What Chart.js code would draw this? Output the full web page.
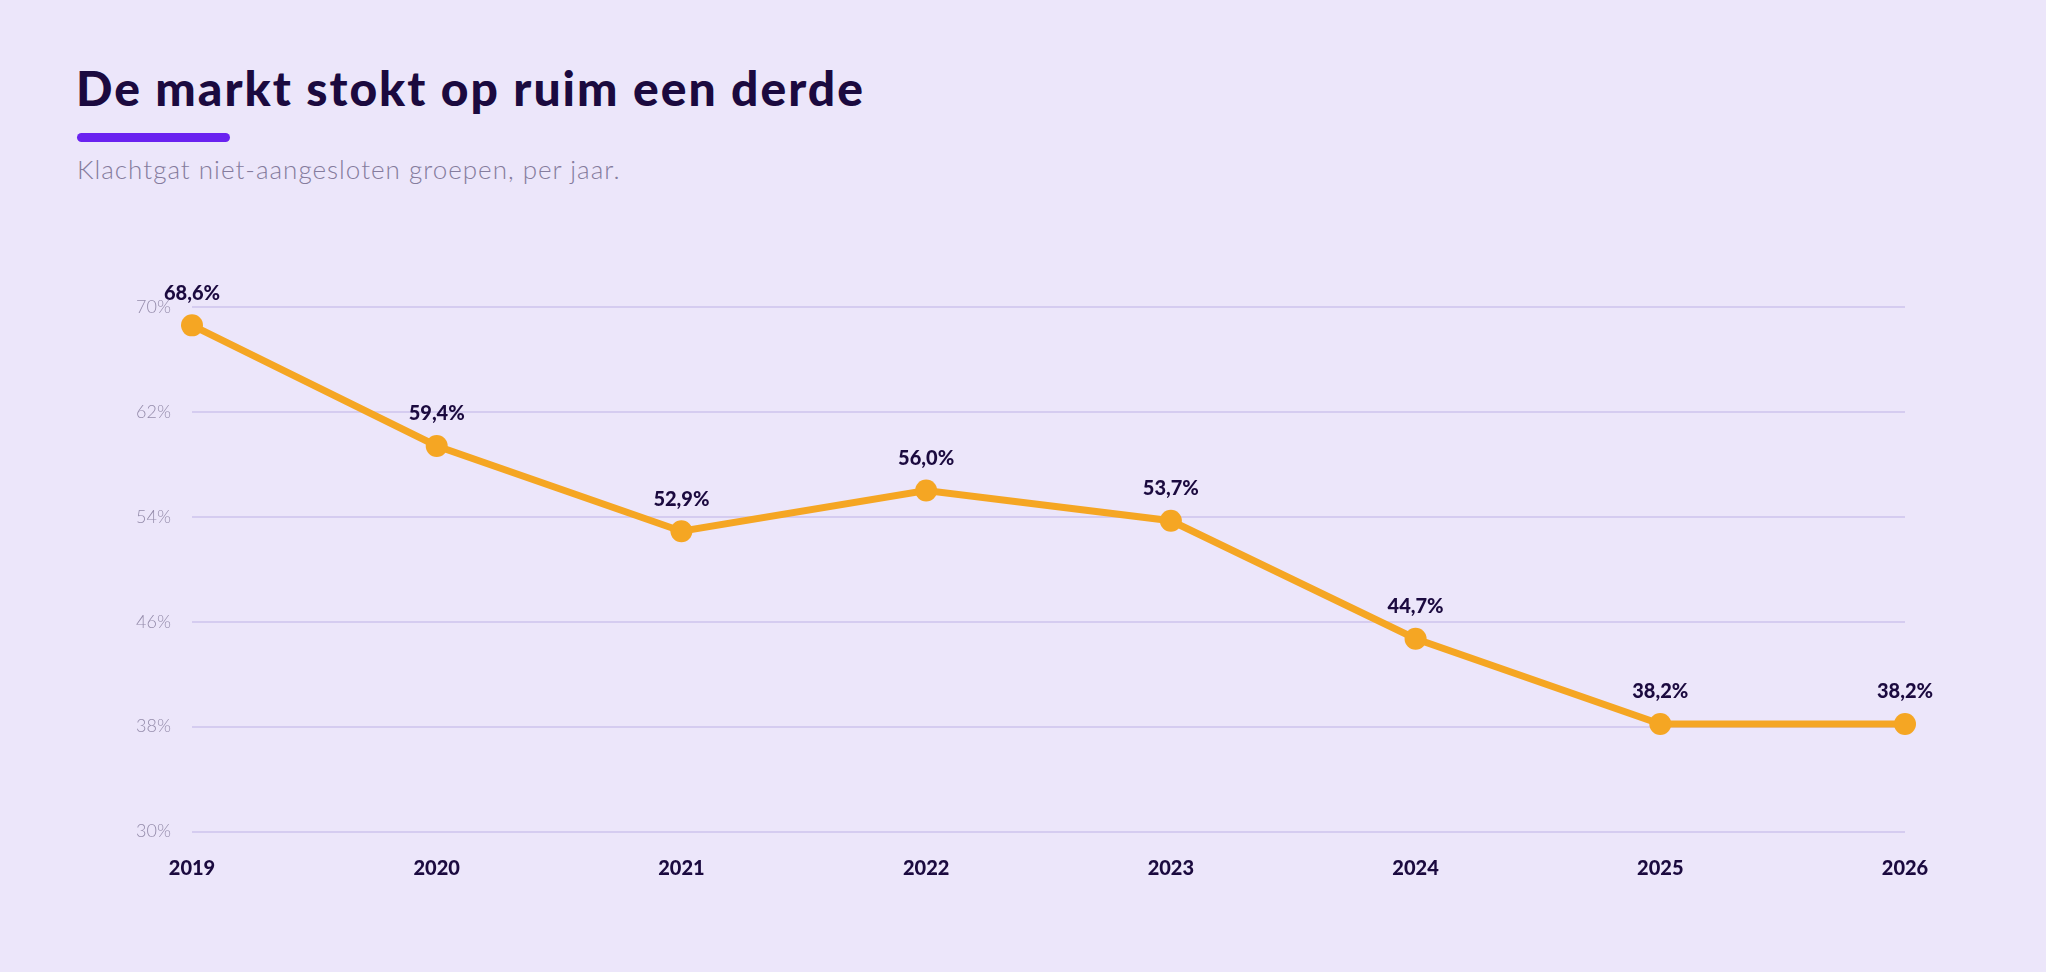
<!DOCTYPE html>
<html>
<head>
<meta charset="utf-8">
<script src="https://cdn.jsdelivr.net/npm/chart.js@4.4.1/dist/chart.umd.min.js"></script>
<style>
  html, body { margin:0; padding:0; background:#ece6fa; width:2046px; height:972px; overflow:hidden; }
  #title { position:absolute; left:76px; top:64px; font-family:Lato, sans-serif; font-weight:900; font-size:48px; line-height:48px; color:#1b0a3f; white-space:nowrap; letter-spacing:2px; }
  #bar { position:absolute; left:77px; top:133px; width:153px; height:9px; border-radius:5px; background:#6a22f0; }
  #subtitle { position:absolute; left:77px; top:156px; font-family:Lato, sans-serif; font-weight:300; font-size:26px; line-height:26px; color:#857c9d; white-space:nowrap; letter-spacing:1px; }
  #wrap { position:absolute; left:0; top:0; width:2046px; height:972px; }
</style>
</head>
<body>
<div id="title">De markt stokt op ruim een derde</div>
<div id="bar"></div>
<div id="subtitle">Klachtgat niet-aangesloten groepen, per jaar.</div>
<div id="wrap"><canvas id="c" width="2046" height="972"></canvas></div>
<script>
const years = ['2019','2020','2021','2022','2023','2024','2025','2026'];
const gapValues = [68.6, 59.4, 52.9, 56.0, 53.7, 44.7, 38.2, 38.2];
const yTicks = [30, 38, 46, 54, 62, 70];

const valueLabels = {
  id: 'valueLabels',
  afterDatasetsDraw(chart) {
    const ctx = chart.ctx;
    const meta = chart.getDatasetMeta(0);
    ctx.save();
    ctx.font = '900 20px Lato, sans-serif';
    ctx.fillStyle = '#1b0a3f';
    ctx.textAlign = 'center';
    ctx.textBaseline = 'middle';
    meta.data.forEach((pt, i) => {
      const v = chart.data.datasets[0].data[i];
      ctx.fillText(v.toFixed(1).replace('.', ',') + '%', pt.x, pt.y - 32);
    });
    ctx.restore();
  }
};

new Chart(document.getElementById('c'), {
  type: 'line',
  data: {
    labels: years,
    datasets: [{
      data: gapValues,
      borderColor: '#f5a623',
      backgroundColor: '#f5a623',
      borderWidth: 7,
      pointRadius: 11,
      pointHoverRadius: 11,
      pointBackgroundColor: '#f5a623',
      pointBorderWidth: 0,
      tension: 0,
      clip: false
    }]
  },
  options: {
    responsive: false,
    animation: false,
    devicePixelRatio: 1,
    layout: { padding: { left: 100, right: 141, top: 307, bottom: 80.5 } },
    plugins: { legend: { display: false }, tooltip: { enabled: false } },
    scales: {
      x: {
        offset: false,
        grid: { display: false, drawTicks: false },
        border: { display: false },
        ticks: { color: '#1b0a3f', font: { family: 'Lato', weight: '900', size: 20 }, padding: 25, maxRotation: 0 },
        afterFit(s) { s.height = 60; }
      },
      y: {
        min: 30, max: 70,
        afterBuildTicks(s) { s.ticks = yTicks.map(v => ({ value: v })); },
        grid: { color: '#d5ccf0', lineWidth: 2, drawTicks: false },
        border: { display: false },
        ticks: { color: '#958cab', font: { family: 'Lato', weight: '300', size: 18 }, padding: 21, callback: v => v + '%' },
        afterFit(s) { s.width = 92; }
      }
    }
  },
  plugins: [valueLabels]
});
</script>
</body>
</html>
